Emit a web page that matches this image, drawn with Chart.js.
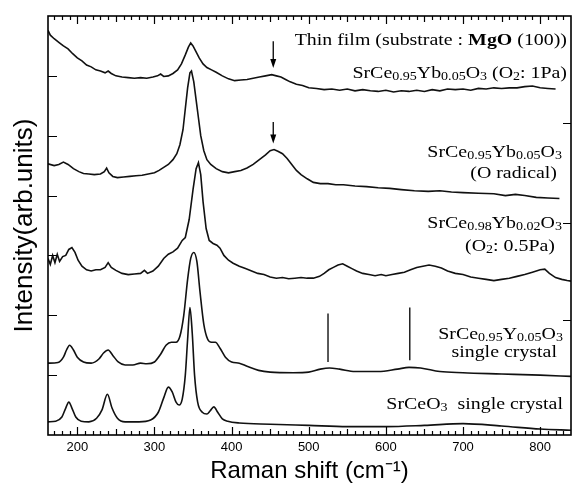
<!DOCTYPE html>
<html lang="en">
<head>
<meta charset="UTF-8">
<title>Raman spectra of SrCeO3 films and crystals</title>
<script src="https://cdn.jsdelivr.net/npm/chart.js"></script>
<style>
  body { margin: 0; background: #fff; }
  canvas { display: block; }
</style>
</head>
<body>
<canvas id="raman" width="573" height="486"></canvas>
<script>
// Raman shift axis
const xMin = 162, xMax = 840;
const xTickLabels = [200, 300, 400, 500, 600, 700, 800];
const leftTicks = [1, 2, 3, 4, 5, 6];
const rightTicks = [1.92, 3.55, 5.22];

// thin film, O2 1Pa (top trace)
const film1PaX = [162,165,170,176,182,188,194,200,206,212,218,224,230,236,240,244,250,258,266,274,282,290,298,304,308,312,318,324,330,335,340,344,347,350,354,358,363,368,374,380,388,396,404,412,420,428,436,444,452,458,464,470,476,484,492,500,510,520,530,540,550,560,570,580,590,600,610,620,630,640,650,660,670,680,690,700,710,720,730,740,750,760,770,780,790,800,810,820];
const film1PaY = [6.76,6.68,6.62,6.56,6.5,6.45,6.37,6.3,6.25,6.18,6.15,6.1,6.08,6.05,6.08,6.04,6.0,5.98,5.97,5.96,5.97,5.96,5.98,6.0,6.03,5.99,6.0,6.04,6.1,6.2,6.35,6.48,6.55,6.5,6.4,6.3,6.2,6.14,6.1,6.06,6.0,5.95,5.92,5.93,5.94,5.96,5.98,6.0,6.02,6.0,5.98,5.94,5.9,5.86,5.84,5.8,5.79,5.77,5.78,5.76,5.78,5.75,5.77,5.75,5.74,5.76,5.73,5.75,5.74,5.76,5.74,5.77,5.75,5.78,5.77,5.78,5.76,5.79,5.78,5.8,5.79,5.8,5.8,5.82,5.83,5.8,5.79,5.78];

// thin film, O radical
const filmRadX = [162,170,176,182,188,195,202,208,215,222,230,235,238,241,246,252,260,268,276,284,292,300,306,312,318,324,329,333,337,340,343,346,348,351,354,357,360,364,368,373,380,388,396,404,412,420,428,436,444,450,455,460,466,472,478,484,490,498,506,515,525,535,545,560,575,590,605,620,637,655,670,685,700,720,740,755,768,780,795,810,825];
const filmRadY = [4.53,4.5,4.52,4.56,4.52,4.45,4.4,4.37,4.36,4.35,4.36,4.4,4.46,4.38,4.32,4.3,4.31,4.32,4.33,4.34,4.36,4.38,4.42,4.47,4.52,4.6,4.7,4.85,5.1,5.45,5.8,6.05,6.08,5.9,5.6,5.3,5.0,4.75,4.6,4.52,4.45,4.4,4.38,4.4,4.42,4.46,4.52,4.6,4.68,4.75,4.77,4.74,4.7,4.62,4.52,4.42,4.35,4.28,4.22,4.2,4.2,4.18,4.18,4.16,4.15,4.13,4.12,4.1,4.08,4.07,4.08,4.06,4.05,4.04,4.03,4.0,4.02,4.0,3.97,3.96,3.95];

// thin film, O2 0.5Pa
const film05PaX = [162,165,168,171,174,177,181,185,189,193,197,201,206,212,218,224,230,236,240,244,250,258,266,274,282,287,291,298,305,312,318,324,330,336,340,345,350,354,357,360,363,367,371,376,381,385,390,396,402,410,418,426,434,442,450,458,466,474,482,490,498,506,514,520,526,532,538,544,550,556,562,570,578,586,594,600,608,616,624,632,640,648,656,664,672,680,690,700,710,720,730,740,750,760,770,780,790,800,806,812,820,828,835,840];
const film05PaY = [2.95,2.85,3.0,2.88,3.02,2.9,2.98,3.0,3.1,3.13,3.05,2.92,2.82,2.76,2.74,2.76,2.76,2.8,2.88,2.8,2.75,2.7,2.68,2.69,2.7,2.75,2.7,2.74,2.82,2.95,3.02,3.06,3.12,3.25,3.3,3.6,4.1,4.45,4.55,4.35,3.9,3.45,3.25,3.2,3.17,3.12,3.0,2.92,2.87,2.82,2.78,2.74,2.7,2.68,2.64,2.62,2.63,2.61,2.62,2.63,2.62,2.62,2.65,2.7,2.76,2.8,2.84,2.86,2.82,2.78,2.74,2.7,2.68,2.66,2.68,2.66,2.68,2.7,2.72,2.76,2.8,2.82,2.84,2.82,2.79,2.74,2.7,2.68,2.64,2.62,2.6,2.58,2.6,2.62,2.65,2.68,2.72,2.76,2.77,2.7,2.63,2.6,2.58,2.57];

// SrCe0.95Y0.05O3 single crystal
const crystalYX = [162,175,182,186,190,195,200,208,218,228,234,240,246,253,262,272,282,290,300,308,315,322,328,333,338,343,347,351,355,359,364,369,374,379,385,392,400,410,420,435,450,480,500,515,527,540,560,590,615,630,645,670,700,750,800,840];
const crystalYY = [1.2,1.21,1.3,1.42,1.5,1.42,1.3,1.22,1.2,1.27,1.37,1.42,1.33,1.22,1.17,1.17,1.2,1.19,1.22,1.35,1.5,1.55,1.55,1.65,2.0,2.6,2.95,3.05,2.9,2.4,1.85,1.6,1.55,1.55,1.45,1.3,1.22,1.2,1.15,1.08,1.05,1.04,1.05,1.1,1.12,1.1,1.06,1.06,1.1,1.13,1.12,1.06,1.04,1.02,1.0,0.98];

// SrCeO3 single crystal (bottom trace)
const crystalX = [162,172,180,185,189,193,198,205,215,225,232,239,245,252,262,280,295,305,312,318,323,328,332,336,340,343,346,349,352,356,362,368,372,377,382,388,395,410,450,500,550,600,650,700,750,800,840];
const crystalY = [0.22,0.23,0.3,0.45,0.55,0.45,0.3,0.23,0.22,0.28,0.42,0.68,0.45,0.28,0.22,0.22,0.25,0.38,0.62,0.8,0.72,0.55,0.5,0.6,1.0,1.6,2.13,1.7,1.0,0.55,0.38,0.35,0.4,0.47,0.38,0.27,0.23,0.2,0.18,0.16,0.14,0.14,0.16,0.19,0.15,0.1,0.08];

// marker lines above the crystal trace and arrows above the film traces
const markerX = [525, 631];
const markerBottom = [1.22, 1.25];
const markerTop = [2.03, 2.13];
const arrowX = [454, 454];
const arrowFrom = [6.58, 5.23];
const arrowTo = [6.13, 4.87];

// text labels: segments [text, style] n=normal, b=bold, s=subscript
const labels = [
  { x: 834.8, y: 6.52, segs: [['Thin film (substrate : ', 'n'], ['MgO', 'b'], [' (100))', 'n']] },
  { x: 834.8, y: 5.97, segs: [['SrCe', 'n'], ['0.95', 's'], ['Yb', 'n'], ['0.05', 's'], ['O', 'n'], ['3', 's'], [' (O', 'n'], ['2', 's'], [': 1Pa)', 'n']] },
  { x: 828.3, y: 4.65, segs: [['SrCe', 'n'], ['0.95', 's'], ['Yb', 'n'], ['0.05', 's'], ['O', 'n'], ['3', 's']] },
  { x: 821.8, y: 4.3, segs: [['(O radical)', 'n']] },
  { x: 828.3, y: 3.45, segs: [['SrCe', 'n'], ['0.98', 's'], ['Yb', 'n'], ['0.02', 's'], ['O', 'n'], ['3', 's']] },
  { x: 819.2, y: 3.08, segs: [['(O', 'n'], ['2', 's'], [': 0.5Pa)', 'n']] },
  { x: 829.6, y: 1.6, segs: [['SrCe', 'n'], ['0.95', 's'], ['Y', 'n'], ['0.05', 's'], ['O', 'n'], ['3', 's']] },
  { x: 821.8, y: 1.3, segs: [['single crystal', 'n']] },
  { x: 829.6, y: 0.43, segs: [['SrCeO', 'n'], ['3', 's'], ['  single crystal', 'n']] }
];

const zip = (xs, ys) => xs.map((v, i) => ({ x: v, y: ys[i] }));

function trace(label, xs, ys, smooth) {
  return {
    label: label,
    data: zip(xs, ys),
    borderColor: '#111',
    borderWidth: 1.6,
    pointRadius: 0,
    fill: false,
    tension: smooth ? 0.4 : 0,
    cubicInterpolationMode: smooth ? 'monotone' : 'default'
  };
}

const datasets = [
  trace('O2 1Pa', film1PaX, film1PaY, false),
  trace('O radical', filmRadX, filmRadY, false),
  trace('O2 0.5Pa', film05PaX, film05PaY, false),
  trace('SrCe0.95Y0.05O3', crystalYX, crystalYY, true),
  trace('SrCeO3', crystalX, crystalY, true)
];
markerX.forEach((mx, i) => {
  datasets.push({
    label: 'marker' + i,
    data: [{ x: mx, y: markerBottom[i] }, { x: mx, y: markerTop[i] }],
    borderColor: '#111',
    borderWidth: 1.4,
    pointRadius: 0
  });
});

const TEXT_STRETCH = 1.17;
const labelFonts = {
  n: '17px "Liberation Serif", "Times New Roman", serif',
  b: 'bold 17px "Liberation Serif", "Times New Roman", serif',
  s: '12px "Liberation Serif", "Times New Roman", serif'
};

function drawRich(ctx, segs, right, base) {
  let w = 0;
  segs.forEach(([t, s]) => { ctx.font = labelFonts[s]; w += ctx.measureText(t).width; });
  ctx.save();
  ctx.translate(right, base);
  ctx.scale(TEXT_STRETCH, 1);
  let cx = -w;
  segs.forEach(([t, s]) => {
    ctx.font = labelFonts[s];
    ctx.fillText(t, cx, s === 's' ? 2 : 0);
    cx += ctx.measureText(t).width;
  });
  ctx.restore();
}

const decor = {
  id: 'decor',
  afterDraw(chart) {
    const { ctx, chartArea: a } = chart;
    const x = chart.scales.x, y = chart.scales.y;
    ctx.save();
    ctx.strokeStyle = '#000';
    ctx.fillStyle = '#000';

    // frame
    ctx.lineWidth = 1.6;
    ctx.strokeRect(a.left, a.top, a.right - a.left, a.bottom - a.top);

    // inward ticks
    ctx.lineWidth = 1.2;
    ctx.beginPath();
    for (let v = 170; v < xMax; v += 10) {
      const px = Math.round(x.getPixelForValue(v)) + 0.5;
      const len = v % 100 === 0 ? 8 : (v % 50 === 0 ? 6 : 4);
      ctx.moveTo(px, a.bottom); ctx.lineTo(px, a.bottom - len);
      ctx.moveTo(px, a.top); ctx.lineTo(px, a.top + len);
    }
    leftTicks.forEach(v => {
      const py = Math.round(y.getPixelForValue(v)) + 0.5;
      ctx.moveTo(a.left, py); ctx.lineTo(a.left + 9, py);
    });
    rightTicks.forEach(v => {
      const py = Math.round(y.getPixelForValue(v)) + 0.5;
      ctx.moveTo(a.right, py); ctx.lineTo(a.right - 8, py);
    });
    ctx.stroke();

    // arrows
    arrowX.forEach((ax, i) => {
      const px = x.getPixelForValue(ax);
      const p1 = y.getPixelForValue(arrowFrom[i]);
      const p2 = y.getPixelForValue(arrowTo[i]);
      ctx.lineWidth = 1.3;
      ctx.beginPath();
      ctx.moveTo(px, p1); ctx.lineTo(px, p2 - 6);
      ctx.stroke();
      ctx.beginPath();
      ctx.moveTo(px - 3, p2 - 9); ctx.lineTo(px + 3, p2 - 9); ctx.lineTo(px, p2);
      ctx.closePath();
      ctx.fill();
    });

    // labels
    ctx.textAlign = 'left';
    ctx.textBaseline = 'alphabetic';
    labels.forEach(l => drawRich(ctx, l.segs, x.getPixelForValue(l.x), y.getPixelForValue(l.y)));
    ctx.restore();
  }
};

Chart.defaults.font.family = '"Liberation Sans", Arial, sans-serif';
Chart.defaults.color = '#000';

new Chart(document.getElementById('raman'), {
  type: 'line',
  data: { datasets: datasets },
  options: {
    responsive: false,
    animation: false,
    parsing: true,
    layout: { padding: { top: 16, right: 2, left: 0, bottom: 0 } },
    plugins: { legend: { display: false }, tooltip: { enabled: false } },
    scales: {
      x: {
        type: 'linear',
        min: xMin,
        max: xMax,
        afterFit: s => { s.height = 51; },
        grid: { display: false, drawTicks: false },
        border: { display: false },
        ticks: {
          stepSize: 100,
          includeBounds: false,
          padding: 5,
          font: { size: 13 },
          callback: v => xTickLabels.includes(v) ? String(v) : ''
        },
        title: {
          display: true,
          text: 'Raman shift (cm\u207B\u00B9)',
          font: { size: 24 },
          padding: { top: 0, bottom: 0 }
        }
      },
      y: {
        min: 0,
        max: 7,
        afterFit: s => { s.width = 48; },
        grid: { display: false, drawTicks: false },
        border: { display: false },
        ticks: { display: false },
        title: {
          display: true,
          text: 'Intensity(arb.units)',
          font: { size: 26 },
          padding: { top: 9, bottom: 0 }
        }
      }
    }
  },
  plugins: [decor]
});
</script>
</body>
</html>
